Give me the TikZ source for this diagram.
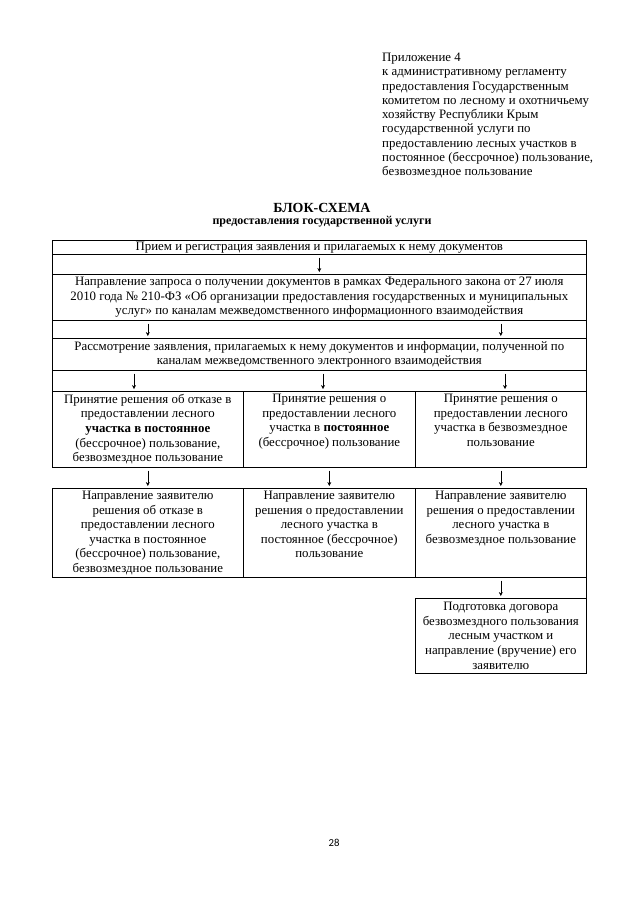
\documentclass[tikz,border=0pt]{standalone}
\usepackage{fontspec}
\setmainfont{Liberation Serif}
\newfontfamily\pagefont{Carlito}
\usetikzlibrary{positioning,arrows.meta}
\newlength\px
\setlength\px{0.328125mm}

\begin{document}
\begin{tikzpicture}[x=0.328125mm,y=-0.328125mm,>={Stealth[length=1.3mm,width=1.3mm]},
  row/.style={draw,line width=0.6pt,anchor=north west,inner sep=0pt,align=center,
    font=\fontsize{12}{13.6}\selectfont},
  txt/.style={inner sep=0pt,align=center,font=\fontsize{12}{13.6}\selectfont},
  arr/.style={->,line width=0.5pt,shorten <=3\px,shorten >=2\px}]
\path[use as bounding box,fill=white] (0,0) rectangle (640,905);
\node[anchor=north west,inner sep=0pt,align=left,font=\fontsize{12}{13.3}\selectfont] (app) at (382,53)
  {Приложение 4\\к административному регламенту\\предоставления Государственным\\комитетом по лесному и охотничьему\\хозяйству Республики Крым\\государственной услуги по\\предоставлению лесных участков в\\постоянное (бессрочное) пользование,\\безвозмездное пользование};
\node[font=\bfseries\fontsize{13}{14}\selectfont] (ttl) at (322,208) {БЛОК-СХЕМА};
\node[font=\bfseries\fontsize{11.2}{14}\selectfont] (sub) at (322,222) {предоставления государственной услуги};

\node[row,minimum width=534\px,minimum height=14\px] (r1) at (52,240) {Прием и регистрация заявления и прилагаемых к нему документов};
\node[row,minimum width=534\px,minimum height=20\px] (r2) at (52,254) {};
\node[row,minimum width=534\px,minimum height=46\px] (r3) at (52,274) {Направление запроса о получении документов в рамках Федерального закона от 27 июля\\2010 года № 210-ФЗ «Об организации предоставления государственных и муниципальных\\услуг» по каналам межведомственного информационного взаимодействия};
\node[row,minimum width=534\px,minimum height=18\px] (r4) at (52,320) {};
\node[row,minimum width=534\px,minimum height=32\px] (r5) at (52,338) {Рассмотрение заявления, прилагаемых к нему документов и информации, полученной по\\каналам межведомственного электронного взаимодействия};
\node[row,minimum width=534\px,minimum height=21\px] (r6) at (52,370) {};

\node[row,minimum width=191\px,minimum height=76\px] (c7a) at (52,391) {};
\node[row,minimum width=172\px,minimum height=76\px] (c7b) at (243,391) {};
\node[row,minimum width=171\px,minimum height=76\px] (c7c) at (415,391) {};
\node[txt,below=3\px of c7a.north] (t7a) {Принятие решения об отказе в\\предоставлении лесного\\\textbf{участка в постоянное}\\(бессрочное) пользование,\\безвозмездное пользование};
\node[txt,below=3\px of c7b.north] (t7b) {Принятие решения о\\предоставлении лесного\\участка в \textbf{постоянное}\\(бессрочное) пользование};
\node[txt,below=3\px of c7c.north] (t7c) {Принятие решения о\\предоставлении лесного\\участка в безвозмездное\\пользование};

\node[row,minimum width=191\px,minimum height=89\px] (c8a) at (52,488) {};
\node[row,minimum width=172\px,minimum height=89\px] (c8b) at (243,488) {};
\node[row,minimum width=171\px,minimum height=89\px] (c8c) at (415,488) {};
\node[txt,below=3\px of c8a.north] (t8a) {Направление заявителю\\решения об отказе в\\предоставлении лесного\\участка в постоянное\\(бессрочное) пользование,\\безвозмездное пользование};
\node[txt,below=3\px of c8b.north] (t8b) {Направление заявителю\\решения о предоставлении\\лесного участка в\\постоянное (бессрочное)\\пользование};
\node[txt,below=3\px of c8c.north] (t8c) {Направление заявителю\\решения о предоставлении\\лесного участка в\\безвозмездное пользование};

\node[row,minimum width=171\px,minimum height=75\px] (d) at (415,598) {Подготовка договора\\безвозмездного пользования\\лесным участком и\\направление (вручение) его\\заявителю};
\node[font=\pagefont\fontsize{10}{12}\selectfont] (pg) at (334,843) {28};

\coordinate (k1) at (134,0);
\coordinate (k2) at (323,0);
\coordinate (k3) at (505,0);
\draw[arr] (r1) -- (r3);
\draw[arr] (r3.south -| c7a) -- (r5.north -| c7a);
\draw[arr] (r3.south -| c7c) -- (r5.north -| c7c);
\draw[arr] (r5.south -| k1) -- (c7a.north -| k1);
\draw[arr] (r5.south -| k2) -- (c7b.north -| k2);
\draw[arr] (r5.south -| k3) -- (c7c.north -| k3);
\draw[arr] (c7a) -- (c8a);
\draw[arr] (c7b) -- (c8b);
\draw[arr] (c7c) -- (c8c);
\draw[arr] (c8c) -- (d);
\draw[line width=0.6pt] (c8c.south east) -- (d.north east);
\end{tikzpicture}
\end{document}
